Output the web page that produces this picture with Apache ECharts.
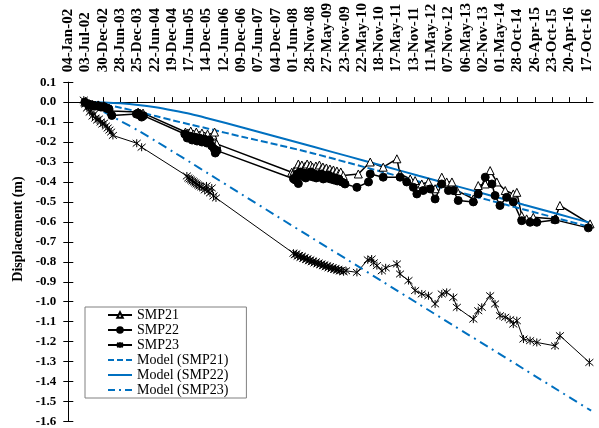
<!DOCTYPE html>
<html>
<head>
<meta charset="utf-8">
<script src="https://cdn.jsdelivr.net/npm/echarts@6/dist/echarts.min.js"></script>
<style>html,body{margin:0;padding:0;background:#fff}#c{width:599px;height:428px}</style>
</head>
<body>
<div id="c"></div>
<script>
// x values are decimal years; y values are displacement (m)
const tickLabels = ['04-Jan-02','03-Jul-02','30-Dec-02','28-Jun-03','25-Dec-03','22-Jun-04','19-Dec-04','17-Jun-05','14-Dec-05','12-Jun-06','09-Dec-06','07-Jun-07','04-Dec-07','01-Jun-08','28-Nov-08','27-May-09','23-Nov-09','22-May-10','18-Nov-10','17-May-11','13-Nov-11','11-May-12','07-Nov-12','06-May-13','02-Nov-13','01-May-14','28-Oct-14','26-Apr-15','23-Oct-15','20-Apr-16','17-Oct-16'];

const smp21 = [[2002.48,0.0],[2002.60,-0.008],[2002.70,-0.012],[2002.78,-0.016],[2002.86,-0.014],[2002.94,-0.02],[2003.02,-0.018],[2003.10,-0.025],[2003.17,-0.03],[2003.23,-0.045],[2004.00,-0.05],[2004.07,-0.06],[2004.14,-0.055],
[2005.35,-0.15],[2005.42,-0.155],[2005.50,-0.145],[2005.58,-0.16],[2005.66,-0.15],[2005.74,-0.165],[2005.82,-0.155],[2005.90,-0.17],[2005.98,-0.16],[2006.06,-0.175],[2006.13,-0.165],[2006.18,-0.15],[2006.24,-0.209],
[2008.38,-0.351],[2008.45,-0.345],[2008.52,-0.33],[2008.57,-0.31],[2008.62,-0.325],[2008.67,-0.315],[2008.72,-0.335],[2008.77,-0.32],[2008.82,-0.31],[2008.87,-0.33],[2008.92,-0.315],[2008.97,-0.325],[2009.02,-0.34],[2009.07,-0.32],[2009.12,-0.33],[2009.17,-0.315],[2009.22,-0.335],[2009.27,-0.325],[2009.32,-0.34],[2009.37,-0.33],[2009.42,-0.345],[2009.47,-0.335],[2009.52,-0.35],[2009.57,-0.34],[2009.62,-0.355],[2009.67,-0.345],[2009.72,-0.36],[2009.78,-0.35],[2009.85,-0.368],
[2010.28,-0.36],[2010.62,-0.30],[2010.99,-0.326],[2011.38,-0.284],[2011.47,-0.36],[2011.76,-0.385],[2011.90,-0.393],[2012.09,-0.41],[2012.28,-0.40],[2012.47,-0.434],[2012.66,-0.376],[2012.80,-0.40],[2012.95,-0.40],[2013.09,-0.443],[2013.56,-0.485],[2013.70,-0.418],[2013.90,-0.41],[2014.04,-0.343],[2014.23,-0.40],[2014.47,-0.443],[2014.70,-0.46],[2014.80,-0.452],[2014.94,-0.569],[2015.08,-0.585],[2015.27,-0.577],[2015.89,-0.585],[2016.03,-0.518],[2016.89,-0.61]];

const smp22 = [[2002.48,0.0],[2002.60,-0.01],[2002.70,-0.015],[2002.78,-0.02],[2002.86,-0.018],[2002.94,-0.025],[2003.02,-0.022],[2003.10,-0.03],[2003.17,-0.035],[2003.25,-0.067],[2003.95,-0.06],[2004.00,-0.055],[2004.05,-0.065],[2004.10,-0.075],[2004.15,-0.068],
[2005.33,-0.16],[2005.40,-0.18],[2005.47,-0.17],[2005.54,-0.19],[2005.61,-0.175],[2005.68,-0.195],[2005.75,-0.18],[2005.82,-0.2],[2005.89,-0.185],[2005.96,-0.205],[2006.03,-0.19],[2006.10,-0.22],[2006.17,-0.235],[2006.20,-0.255],[2006.25,-0.243],
[2008.43,-0.384],[2008.48,-0.39],[2008.53,-0.36],[2008.57,-0.408],[2008.63,-0.35],[2008.68,-0.37],[2008.73,-0.355],[2008.78,-0.38],[2008.83,-0.36],[2008.88,-0.37],[2008.93,-0.35],[2008.98,-0.375],[2009.03,-0.36],[2009.08,-0.38],[2009.13,-0.365],[2009.18,-0.375],[2009.23,-0.36],[2009.28,-0.385],[2009.33,-0.37],[2009.38,-0.38],[2009.43,-0.365],[2009.48,-0.385],[2009.53,-0.375],[2009.58,-0.39],[2009.63,-0.38],[2009.68,-0.395],[2009.73,-0.385],[2009.81,-0.40],[2009.90,-0.41],
[2010.24,-0.427],[2010.57,-0.40],[2010.62,-0.36],[2010.99,-0.376],[2011.47,-0.376],[2011.66,-0.40],[2011.85,-0.427],[2011.95,-0.46],[2012.13,-0.443],[2012.33,-0.435],[2012.47,-0.485],[2012.66,-0.41],[2012.85,-0.443],[2012.99,-0.443],[2013.13,-0.493],[2013.56,-0.50],[2013.70,-0.46],[2013.90,-0.376],[2014.09,-0.41],[2014.18,-0.468],[2014.32,-0.518],[2014.51,-0.477],[2014.70,-0.50],[2014.94,-0.594],[2015.18,-0.602],[2015.37,-0.602],[2015.89,-0.59],[2016.84,-0.63]];

const smp23 = [[2002.45,0.01],[2002.50,-0.01],[2002.54,-0.03],[2002.58,-0.02],[2002.62,-0.05],[2002.66,-0.04],[2002.70,-0.07],[2002.74,-0.06],[2002.78,-0.08],[2002.83,-0.09],[2002.88,-0.085],[2002.93,-0.10],[2002.98,-0.11],[2003.03,-0.105],[2003.08,-0.12],[2003.13,-0.13],[2003.18,-0.14],[2003.23,-0.15],[2003.28,-0.167],
[2003.96,-0.206],[2004.10,-0.226],
[2005.39,-0.37],[2005.43,-0.38],[2005.47,-0.385],[2005.51,-0.39],[2005.55,-0.395],[2005.59,-0.40],[2005.63,-0.405],[2005.67,-0.41],[2005.71,-0.415],[2005.75,-0.42],[2005.80,-0.425],[2005.85,-0.43],[2005.90,-0.44],[2005.95,-0.42],[2006.00,-0.445],[2006.05,-0.455],[2006.10,-0.43],[2006.15,-0.47],[2006.22,-0.48],
[2008.43,-0.757],[2008.47,-0.765],[2008.51,-0.76],[2008.55,-0.772],[2008.59,-0.768],[2008.63,-0.778],[2008.67,-0.772],[2008.71,-0.783],[2008.75,-0.779],[2008.79,-0.789],[2008.83,-0.785],[2008.87,-0.795],[2008.91,-0.79],[2008.95,-0.80],[2008.99,-0.796],[2009.03,-0.806],[2009.07,-0.80],[2009.11,-0.81],[2009.15,-0.806],[2009.19,-0.815],[2009.23,-0.811],[2009.27,-0.82],[2009.31,-0.815],[2009.35,-0.825],[2009.39,-0.82],[2009.43,-0.83],[2009.47,-0.824],[2009.51,-0.834],[2009.55,-0.83],[2009.59,-0.838],[2009.63,-0.834],[2009.67,-0.842],[2009.71,-0.838],[2009.75,-0.846],[2009.80,-0.842],[2009.86,-0.85],[2009.93,-0.845],
[2010.24,-0.853],[2010.55,-0.79],[2010.66,-0.786],[2010.72,-0.805],[2010.81,-0.819],[2010.95,-0.845],[2011.06,-0.83],[2011.38,-0.811],[2011.47,-0.861],[2011.71,-0.894],[2011.90,-0.944],[2012.09,-0.961],[2012.28,-0.97],[2012.47,-1.011],[2012.66,-0.961],[2012.80,-0.953],[2012.99,-0.978],[2013.09,-1.028],[2013.56,-1.087],[2013.70,-1.045],[2013.80,-1.028],[2014.04,-0.97],[2014.18,-1.011],[2014.32,-1.07],[2014.47,-1.078],[2014.61,-1.09],[2014.70,-1.112],[2014.80,-1.095],[2014.99,-1.187],[2015.18,-1.195],[2015.37,-1.204],[2015.89,-1.221],[2016.03,-1.17],[2016.87,-1.304]];

const modelYears = [2002.49,2003.0,2003.5,2004.0,2004.5,2005.0,2005.5,2006.0,2007.0,2008.0,2009.0,2010.0,2011.0,2012.0,2013.0,2014.0,2015.0,2016.0,2016.92];
const modelSMP21 = [0.0,-0.012,-0.028,-0.048,-0.070,-0.092,-0.113,-0.133,-0.175,-0.215,-0.257,-0.304,-0.351,-0.398,-0.444,-0.491,-0.538,-0.584,-0.627];
const modelSMP22 = [0.0,-0.002,-0.006,-0.014,-0.026,-0.042,-0.060,-0.082,-0.128,-0.176,-0.224,-0.272,-0.320,-0.369,-0.417,-0.465,-0.514,-0.562,-0.606];
const modelSMP23 = [0.0,-0.047,-0.095,-0.142,-0.195,-0.249,-0.303,-0.358,-0.467,-0.576,-0.685,-0.793,-0.902,-1.011,-1.120,-1.228,-1.337,-1.446,-1.546];

// axis unit: days since 04-Jan-2002, ticks every 180 days
const START_YEAR = 2002 + 3/365;
const STEP = 180;
const toDay = y => (y - START_YEAR) * 365.25;
const pts = arr => arr.map(p => [toDay(p[0]), p[1]]);
const modelPts = vals => modelYears.map((y, i) => [toDay(y), vals[i]]);
const tickDays = tickLabels.map((_, i) => i * STEP);

const serif = 'Liberation Serif, Times New Roman, serif';
const blue = '#0070C0';
const starPath = 'path://M0,0L10,10M10,0L0,10M5,-1L5,11';
const iconSolid = 'path://M0,0H24V2H0Z';
const iconDash = 'path://M0,0H6V2H0ZM9,0H15V2H9ZM18,0H24V2H18Z';
const iconDashDot = 'path://M0,0H7V2H0ZM11,0H13V2H11ZM17,0H24V2H17Z';

const chart = echarts.init(document.getElementById('c'), null, {renderer: 'canvas'});
chart.setOption({
  animation: false,
  backgroundColor: '#fff',
  grid: {left: 68.3, right: 6, top: 81.7, bottom: 6.5, containLabel: false},
  graphic: [{
    type: 'text', x: 18, y: 229, rotation: Math.PI / 2,
    style: {text: 'Displacement (m)', font: 'bold 14px ' + serif, fill: '#000', align: 'center', verticalAlign: 'middle'}
  }],
  legend: {
    orient: 'vertical', left: 85, top: 307,
    itemWidth: 24, itemHeight: 7, itemGap: 1,
    padding: [1, 18, 1, 22],
    borderColor: '#808080', borderWidth: 1, backgroundColor: '#fff',
    textStyle: {fontFamily: serif, fontSize: 14, color: '#000', lineHeight: 14},
    data: ['SMP21', 'SMP22', 'SMP23',
      {name: 'Model (SMP21)', icon: iconDash},
      {name: 'Model (SMP22)', icon: iconSolid},
      {name: 'Model (SMP23)', icon: iconDashDot}]
  },
  xAxis: {
    type: 'value', position: 'top', min: 0, max: 5466, interval: STEP,
    axisLine: {lineStyle: {color: '#000', width: 1}},
    axisTick: {show: true, length: 5, inside: false, customValues: tickDays, lineStyle: {color: '#000'}},
    axisLabel: {
      customValues: tickDays, rotate: 90, margin: 10,
      fontFamily: serif, fontWeight: 'bold', fontSize: 15, color: '#000',
      formatter: v => tickLabels[Math.round(v / STEP)] || ''
    },
    splitLine: {show: false}
  },
  yAxis: [{
    type: 'value', min: -1.6, max: 0.1, interval: 0.1,
    axisLine: {show: true, lineStyle: {color: '#000', width: 1}},
    axisTick: {show: true, length: 5, inside: false, lineStyle: {color: '#000'}},
    axisLabel: {margin: 12, fontFamily: serif, fontWeight: 'bold', fontSize: 13, color: '#000',
      formatter: v => (Math.abs(v) < 1e-9 ? 0 : v).toFixed(1)},
    splitLine: {show: false}
  }, {
    type: 'value', min: -1.6, max: 0.1, interval: 0.1, position: 'left',
    axisLine: {show: false},
    axisTick: {show: true, length: 5, inside: true, lineStyle: {color: '#000'}},
    axisLabel: {show: false}, splitLine: {show: false}
  }],
  series: [
    {name: 'SMP21', type: 'line', data: pts(smp21), symbol: 'triangle', symbolSize: 8, showAllSymbol: true,
      lineStyle: {color: '#000', width: 1.5}, itemStyle: {color: '#fff', borderColor: '#000', borderWidth: 1}},
    {name: 'SMP22', type: 'line', data: pts(smp22), symbol: 'circle', symbolSize: 8, showAllSymbol: true,
      lineStyle: {color: '#000', width: 1.5}, itemStyle: {color: '#000', borderColor: '#000', borderWidth: 1}},
    {name: 'SMP23', type: 'line', data: pts(smp23), symbol: starPath, symbolSize: 8, showAllSymbol: true,
      lineStyle: {color: '#000', width: 1}, itemStyle: {color: 'rgba(0,0,0,0)', borderColor: '#000', borderWidth: 1}},
    {name: 'Model (SMP21)', type: 'line', data: modelPts(modelSMP21), symbol: 'none', smooth: 0.3,
      lineStyle: {color: blue, width: 2, type: [7, 3]}, itemStyle: {color: blue}},
    {name: 'Model (SMP22)', type: 'line', data: modelPts(modelSMP22), symbol: 'none', smooth: 0.3,
      lineStyle: {color: blue, width: 2}, itemStyle: {color: blue}},
    {name: 'Model (SMP23)', type: 'line', data: modelPts(modelSMP23), symbol: 'none', smooth: 0.3,
      lineStyle: {color: blue, width: 2, type: [9, 5, 2, 5]}, itemStyle: {color: blue}}
  ]
});
</script>
</body>
</html>
